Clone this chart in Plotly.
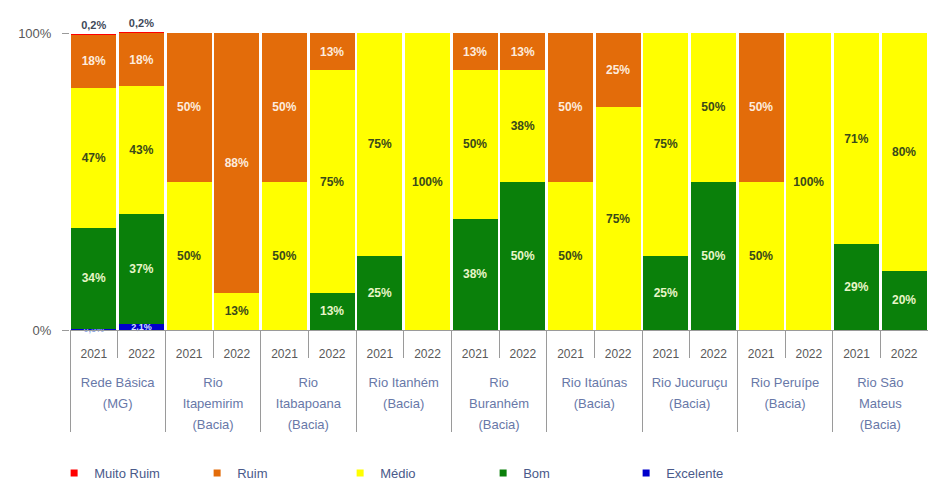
import plotly.graph_objects as go

groups = ["Rede Básica<br>(MG)", "Rio<br>Itapemirim<br>(Bacia)", "Rio<br>Itabapoana<br>(Bacia)",
          "Rio Itanhém<br>(Bacia)", "Rio<br>Buranhém<br>(Bacia)", "Rio Itaúnas<br>(Bacia)",
          "Rio Jucuruçu<br>(Bacia)", "Rio Peruípe<br>(Bacia)", "Rio São<br>Mateus<br>(Bacia)"]
years = ["2021", "2022"]

muito_ruim = [0.2, 0.2, 0, 0, 0, 0, 0, 0, 0, 0, 0, 0, 0, 0, 0, 0, 0, 0]
ruim =       [18, 18, 50, 87.5, 50, 12.5, 0, 0, 12.5, 12.5, 50, 25, 0, 0, 50, 0, 0, 0]
medio =      [47, 43, 50, 12.5, 50, 75, 75, 100, 50, 37.5, 50, 75, 75, 50, 50, 100, 71, 80]
bom =        [34, 37, 0, 0, 0, 12.5, 25, 0, 37.5, 50, 0, 0, 25, 50, 0, 0, 29, 20]
excelente =  [0.5, 2.1, 0, 0, 0, 0, 0, 0, 0, 0, 0, 0, 0, 0, 0, 0, 0, 0]

series_names = ["Muito Ruim", "Ruim", "Médio", "Bom", "Excelente"]
colors = {"Muito Ruim": "#FF0000", "Ruim": "#E36C0A", "Médio": "#FFFF00",
          "Bom": "#0A800A", "Excelente": "#0000CC"}

grp_color = "#6878A8"
x_outer = []
x_inner = []
for g in groups:
    for y in years:
        x_outer.append(f"<br><span style='color:{grp_color};font-size:13px'>{g}</span>")
        x_inner.append(f"<span style='font-size:12px'>{y}</span>")
x = [x_outer, x_inner]


def fmt(v):
    if v == 0:
        return ""
    if v < 5:
        return f"{v:.1f}".replace(".", ",") + "%"
    return f"{int(v + 0.5)}%"


fig = go.Figure()
font_fam = "Liberation Sans, Arial, sans-serif"


def seg(vals, name, color, txtcolor, size=12, **kw):
    return go.Bar(x=x, y=vals, name=name, marker_color=color,
                  text=[fmt(v) for v in vals], textangle=0, constraintext="none",
                  textfont=dict(size=size, color=txtcolor, family=font_fam, weight="bold"),
                  showlegend=False, marker_line_width=0, **kw)


# stacking from bottom: Excelente, Bom, Médio, Ruim, Muito Ruim
fig.add_trace(seg(excelente, "Excelente", colors["Excelente"],
                  ["#8FA8E8", "#D8E0FF"] + ["#ffffff"] * 16, size=9,
                  textposition="inside", insidetextanchor="middle", cliponaxis=False))
fig.add_trace(seg(bom, "Bom", colors["Bom"], "#E8F5C8",
                  textposition="inside", insidetextanchor="middle"))
fig.add_trace(seg(medio, "Médio", colors["Médio"], "#3A4A1A",
                  textposition="inside", insidetextanchor="middle"))
fig.add_trace(seg(ruim, "Ruim", colors["Ruim"], "#FDEBDD",
                  textposition="inside", insidetextanchor="middle"))
fig.add_trace(seg(muito_ruim, "Muito Ruim", colors["Muito Ruim"], "#404858", size=11,
                  textposition="outside", cliponaxis=False))

# legend entries (small square markers)
for nm in series_names:
    fig.add_trace(go.Scatter(x=[None], y=[None], mode="markers", name=nm,
                             marker=dict(symbol="square", size=7, color=colors[nm]),
                             showlegend=True))

fig.update_layout(
    width=928, height=488,
    margin=dict(l=70, r=0, t=32, b=156),
    barmode="stack", bargap=0.06,
    plot_bgcolor="white", paper_bgcolor="white",
    font=dict(family=font_fam, size=12, color="#595959"),
    legend=dict(orientation="h", x=-0.0185, xanchor="left", y=-0.48, yanchor="middle",
                traceorder="normal", entrywidth=98, entrywidthmode="pixels",
                font=dict(size=13, color="#4A5A8A"), itemwidth=30),
    xaxis=dict(type="multicategory", showline=True, linecolor="#9A9A9A", linewidth=1,
               ticks="outside", ticklen=27, tickcolor="#9A9A9A", tickwidth=1,
               ticklabelstandoff=8,
               showdividers=True, dividercolor="#9A9A9A", dividerwidth=1,
               tickfont=dict(size=16, color="#595959")),
    yaxis=dict(range=[0, 100.4], tickvals=[0, 100], ticktext=["0%", "100%"],
               showgrid=False, zeroline=False, ticks="outside", ticklen=7,
               ticklabelstandoff=8,
               tickcolor="#9A9A9A", tickfont=dict(size=13, color="#595959")),
)

fig.write_html("out.html")
